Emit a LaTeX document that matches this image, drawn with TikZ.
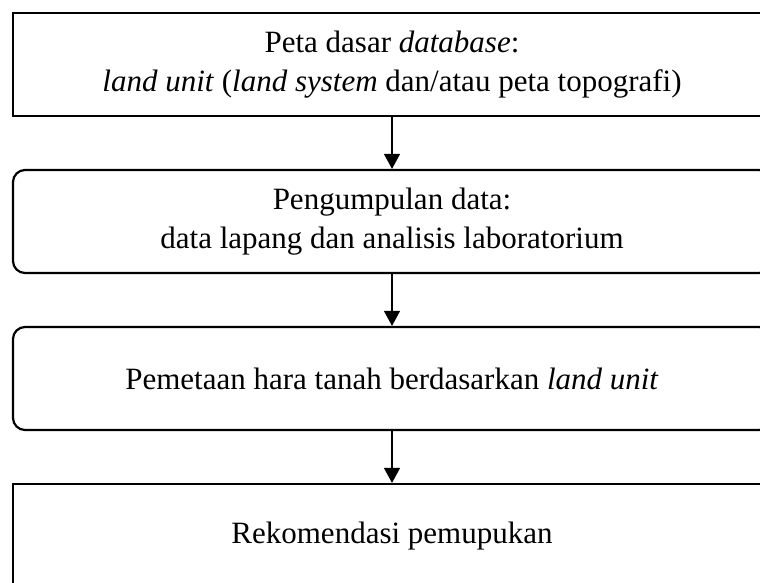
\documentclass[tikz,border=0pt]{standalone}
\usepackage{fontspec}
\setmainfont{Liberation Serif}
\usetikzlibrary{arrows.meta}
\begin{document}
\begin{tikzpicture}[x=1pt,y=-1pt,
 box/.style={draw,line width=2.2pt,minimum width=758pt,minimum height=103pt,align=center,font=\fontsize{31}{39}\selectfont,inner sep=0pt},
 rbox/.style={box,rounded corners=12pt},
 flow/.style={line width=1.2pt,-{Triangle[length=15pt,width=16pt]}}]
\useasboundingbox (0,0) rectangle (760,582);
\clip (0,0) rectangle (760,582);
\node[box] (b1) at (392,64.5) {Peta dasar \textit{database}:\\\textit{land unit} (\textit{land system} dan/atau peta topografi)};
\node[rbox] (b2) at (392,221.5) {Pengumpulan data:\\data lapang dan analisis laboratorium};
\node[rbox] (b3) at (392,378.5) {Pemetaan hara tanah berdasarkan \textit{land unit}};
\node[box,minimum height=104pt] (b4) at (392,536) {Rekomendasi pemupukan};
\draw[flow] (b1.south) -- (b2.north);
\draw[flow] (b2.south) -- (b3.north);
\draw[flow] (b3.south) -- (b4.north);
\end{tikzpicture}
\end{document}
